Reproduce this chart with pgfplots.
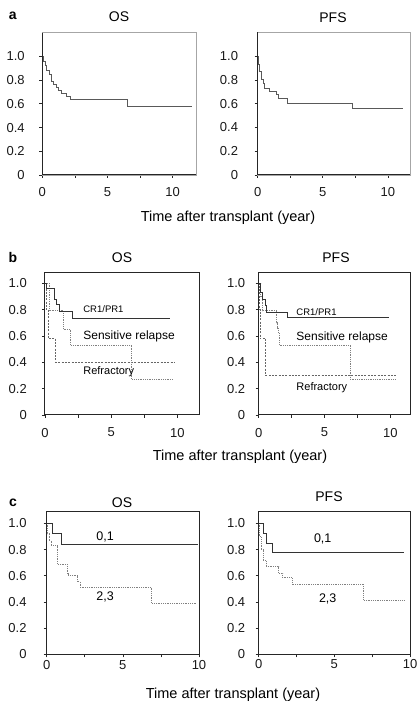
\documentclass[border=0pt]{standalone}
\usepackage{pgfplots}
\pgfplotsset{compat=1.18}
\usepackage{fontspec}
\setmainfont{Liberation Sans}
\newcommand{\fs}[1]{\fontsize{#1}{#1}\selectfont}
\newcommand{\padA}{\hspace*{14.5pt}}
\newcommand{\padB}{\hspace*{16.5pt}}
\begin{document}
\begin{tikzpicture}
\path[use as bounding box] (0pt,0pt) rectangle (416pt,702pt);
\pgfplotsset{
  km/.style={
    scale only axis, anchor=south west,
    xmin=0, ymin=0,
    xtick={0,5,10}, xticklabels={0,5,10},
    minor xtick={2.5,7.5},
    ytick={0,0.2,0.4,0.6,0.8,1.0},
    yticklabels={0,0.2,0.4,0.6,0.8,1.0},
    tick align=outside, tick pos=left,
    major tick length=3pt, minor tick length=3pt,
    tick style={black!85, line width=0.7pt},
    minor tick style={black!85, line width=0.7pt},
    axis line style={black!85, line width=1pt},
    ticklabel style={font=\fs{13}, inner sep=0pt, text=black!90},
    xticklabel style={anchor=north},
    yticklabel style={anchor=east},
    /pgf/number format/assume math mode=true,
    clip=false,
  },
  cA/.style={const plot, black!65, line width=0.8pt},
  cS/.style={const plot, black!80, line width=0.9pt},
  cD/.style={const plot, black!50, line width=0.9pt, dash pattern=on 0.9pt off 0.9pt},
  cR/.style={const plot, black!60, line width=0.8pt, dash pattern=on 2pt off 1.3pt},
}
% ---------- row a ----------
\begin{axis}[km, at={(42.3pt,527pt)}, width=153.7pt, height=142.3pt, xmax=11.8, ymax=1.2,
  axis line style={black!35, line width=0.6pt},
  yticklabels={0\padA,0.2\padA,0.4\padA,0.6\padA,0.8\padA,1.0\padA},
  xticklabel style={yshift=-9.3pt}]
\addplot[cA] coordinates {(0,1.0) (0.05,0.96) (0.2,0.92) (0.33,0.88) (0.54,0.85) (0.72,0.79) (0.85,0.76) (1.05,0.74) (1.26,0.71) (1.46,0.69) (1.87,0.66) (2.13,0.635) (6.56,0.58) (11.5,0.58)};
\draw[black!85, line width=1pt] (rel axis cs:0,1) -- (rel axis cs:0,0) -- (rel axis cs:1,0);
\end{axis}
\begin{axis}[km, at={(257.7pt,527pt)}, width=152.3pt, height=142.7pt, xmax=11.7, ymax=1.2,
  axis line style={black!35, line width=0.6pt},
  yticklabels={0\padB,0.2\padB,0.4\padB,0.6\padB,0.8\padB,1.0\padB},
  xticklabel style={yshift=-9.3pt}]
\addplot[cA] coordinates {(0,1.0) (0.05,0.93) (0.15,0.87) (0.28,0.8) (0.4,0.77) (0.55,0.73) (0.9,0.70) (1.4,0.68) (1.6,0.645) (2.3,0.605) (7.3,0.56) (11.15,0.56)};
\draw[black!85, line width=1pt] (rel axis cs:0,1) -- (rel axis cs:0,0) -- (rel axis cs:1,0);
\end{axis}
% ---------- row b ----------
\begin{axis}[km, at={(45pt,287pt)}, width=155pt, height=142.3pt, xmax=11.7, ymax=1.08,
  xticklabel style={yshift=-9.8pt}, yticklabel style={xshift=-15pt}]
\addplot[cR] coordinates {(0,1.0) (0.1,0.8) (0.25,0.58) (0.8,0.40) (9.8,0.40)};
\addplot[cD] coordinates {(0,1.0) (0.3,0.79) (1.4,0.65) (1.93,0.53) (6.56,0.27) (9.65,0.27)};
\addplot[cS] coordinates {(0,1.0) (0.1,0.96) (0.7,0.88) (0.9,0.84) (1.1,0.787) (2.05,0.734) (9.4,0.734)};
\node[font=\fs{9.5}, anchor=west] at (axis cs:2.63,0.80) {CR1/PR1};
\node[font=\fs{12}, anchor=west] at (axis cs:2.63,0.60) {Sensitive relapse};
\node[font=\fs{11}, anchor=west] at (axis cs:2.63,0.33) {Refractory};
\end{axis}
\begin{axis}[km, at={(258.7pt,287pt)}, width=151.3pt, height=142.3pt, xmax=11.5, ymax=1.08,
  xticklabel style={yshift=-9.8pt}, yticklabel style={xshift=-10.4pt}]
\addplot[cR] coordinates {(0,1.0) (0.05,0.8) (0.1,0.58) (0.54,0.30) (10.4,0.30)};
\addplot[cD] coordinates {(0,1.0) (0.15,0.9) (0.25,0.79) (1.38,0.70) (1.43,0.66) (1.5,0.62) (1.55,0.53) (6.97,0.27) (10.4,0.27)};
\addplot[cS] coordinates {(0,1.0) (0.1,0.93) (0.3,0.88) (0.5,0.83) (0.6,0.78) (2.2,0.742) (9.9,0.742)};
\node[font=\fs{9.5}, anchor=west] at (axis cs:2.6,0.78) {CR1/PR1};
\node[font=\fs{12}, anchor=west] at (axis cs:2.6,0.59) {Sensitive relapse};
\node[font=\fs{11}, anchor=west] at (axis cs:2.6,0.21) {Refractory};
\end{axis}
% ---------- row c ----------
\begin{axis}[km, at={(46.7pt,47.7pt)}, width=152.3pt, height=142.6pt, xmax=10, ymax=1.09,
  xticklabel style={yshift=-3pt}, yticklabel style={xshift=-17pt}]
\addplot[cD] coordinates {(0,1.0) (0.05,0.92) (0.15,0.87) (0.3,0.83) (0.72,0.687) (1.34,0.62) (1.4,0.60) (2.04,0.555) (2.2,0.51) (6.9,0.39) (9.8,0.39)};
\addplot[cS] coordinates {(0,1.0) (0.4,0.92) (1.0,0.84) (9.95,0.84)};
\node[font=\fs{12.5}] at (axis cs:3.83,0.90) {0,1};
\node[font=\fs{12.5}] at (axis cs:3.83,0.44) {2,3};
\end{axis}
\begin{axis}[km, at={(258.7pt,47.7pt)}, width=151.3pt, height=142.6pt, xmax=10, ymax=1.09,
  xticklabel style={yshift=-2pt}, yticklabel style={xshift=-10.4pt}]
\addplot[cD] coordinates {(0,1.0) (0.05,0.9) (0.15,0.8) (0.3,0.72) (0.5,0.67) (1.33,0.62) (1.6,0.585) (2.2,0.535) (6.93,0.415) (9.6,0.415)};
\addplot[cS] coordinates {(0,1.0) (0.3,0.92) (0.53,0.85) (0.93,0.775) (9.6,0.775)};
\node[font=\fs{12.5}] at (axis cs:4.23,0.88) {0,1};
\node[font=\fs{12.5}] at (axis cs:4.56,0.42) {2,3};
\end{axis}
% ---------- titles and labels ----------
\node[font=\bfseries\fs{14}] at (12.7pt,686pt) {a};
\node[font=\fs{14}] at (119pt,685pt) {OS};
\node[font=\fs{14}] at (333pt,684pt) {PFS};
\node[font=\fs{14.5}] at (228pt,484pt) {Time after transplant (year)};
\node[font=\bfseries\fs{14}] at (13pt,444pt) {b};
\node[font=\fs{14}] at (122pt,444pt) {OS};
\node[font=\fs{14}] at (336pt,444pt) {PFS};
\node[font=\fs{14.5}] at (240pt,245pt) {Time after transplant (year)};
\node[font=\bfseries\fs{14}] at (13pt,199pt) {c};
\node[font=\fs{14}] at (122pt,199pt) {OS};
\node[font=\fs{14}] at (329pt,205pt) {PFS};
\node[font=\fs{14.5}] at (233pt,7pt) {Time after transplant (year)};
\end{tikzpicture}
\end{document}
